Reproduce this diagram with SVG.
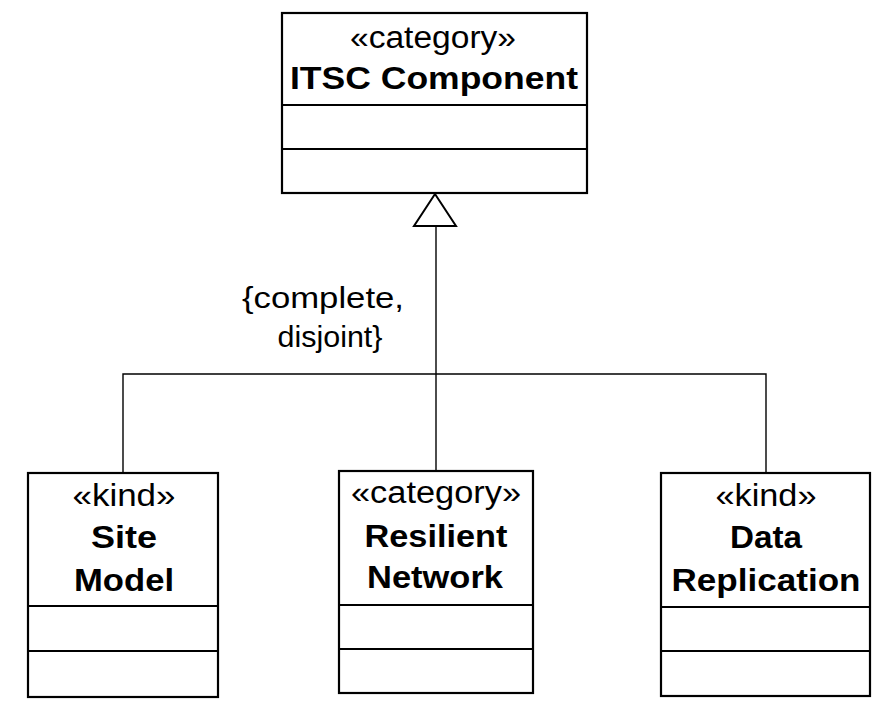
<svg xmlns="http://www.w3.org/2000/svg" width="884" height="710" viewBox="0 0 884 710">
<style>
.box{fill:#fff;stroke:#000;stroke-width:2.2}
.div{stroke:#000;stroke-width:2.2}
.con{fill:none;stroke:#000;stroke-width:1.4}
.st{font-family:"Liberation Sans",Arial,sans-serif;font-size:31px;fill:#000;text-anchor:middle}
.nm{font-family:"Liberation Sans",Arial,sans-serif;font-size:32px;font-weight:bold;fill:#000;text-anchor:middle}
.lbl{font-family:"Liberation Sans",Arial,sans-serif;font-size:30px;fill:#000;text-anchor:middle}
</style>
<rect width="884" height="710" fill="#fff"/>
<g id="connectors">
<polyline class="con" points="436,226 436,374"/>
<polyline class="con" points="123,473 123,374 766,374 766,473"/>
<line class="con" x1="436" y1="374" x2="436" y2="471"/>
<polygon points="435,194 414,226 456,226" fill="#fff" stroke="#000" stroke-width="2"/>
<text class="lbl" x="323" y="308" textLength="162" lengthAdjust="spacingAndGlyphs">{complete,</text>
<text class="lbl" x="330" y="347" textLength="105" lengthAdjust="spacingAndGlyphs">disjoint}</text>
</g>
<g id="itsc-component">
<rect class="box" x="282" y="13" width="305" height="180"/>
<line class="div" x1="282" y1="105" x2="587" y2="105"/>
<line class="div" x1="282" y1="149" x2="587" y2="149"/>
<text class="st" x="433" y="48" textLength="166" lengthAdjust="spacingAndGlyphs">«category»</text>
<text class="nm" x="434" y="89" textLength="288" lengthAdjust="spacingAndGlyphs">ITSC Component</text>
</g>
<g id="site-model">
<rect class="box" x="28" y="473" width="190" height="224"/>
<line class="div" x1="28" y1="606" x2="218" y2="606"/>
<line class="div" x1="28" y1="651" x2="218" y2="651"/>
<text class="st" x="124" y="506" textLength="103" lengthAdjust="spacingAndGlyphs">«kind»</text>
<text class="nm" x="124" y="548" textLength="66" lengthAdjust="spacingAndGlyphs">Site</text>
<text class="nm" x="124" y="591" textLength="100" lengthAdjust="spacingAndGlyphs">Model</text>
</g>
<g id="resilient-network">
<rect class="box" x="339" y="471" width="194" height="222"/>
<line class="div" x1="339" y1="605" x2="533" y2="605"/>
<line class="div" x1="339" y1="649" x2="533" y2="649"/>
<text class="st" x="436" y="503" textLength="170" lengthAdjust="spacingAndGlyphs">«category»</text>
<text class="nm" x="436" y="547" textLength="143" lengthAdjust="spacingAndGlyphs">Resilient</text>
<text class="nm" x="435" y="588" textLength="136" lengthAdjust="spacingAndGlyphs">Network</text>
</g>
<g id="data-replication">
<rect class="box" x="661" y="473" width="209" height="223"/>
<line class="div" x1="661" y1="607" x2="870" y2="607"/>
<line class="div" x1="661" y1="651" x2="870" y2="651"/>
<text class="st" x="766" y="506" textLength="101" lengthAdjust="spacingAndGlyphs">«kind»</text>
<text class="nm" x="766" y="548" textLength="72" lengthAdjust="spacingAndGlyphs">Data</text>
<text class="nm" x="766" y="591" textLength="189" lengthAdjust="spacingAndGlyphs">Replication</text>
</g>
</svg>
